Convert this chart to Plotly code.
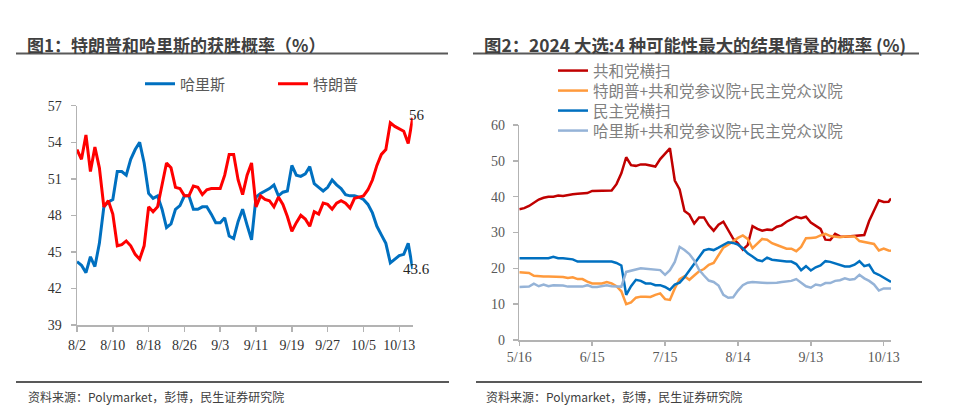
import plotly.graph_objects as go
from datetime import date, timedelta

W, H = 960, 407
CJK = "Noto Sans CJK SC"
SERIF = "Liberation Serif"

# ---------------- Chart 1 data (daily, from 8/2) ----------------
c1_start = date(2024, 8, 2)
harris = [44.2, 43.9, 43.3, 44.6, 43.8, 45.7, 48.7, 49.1, 49.3, 51.6,
          51.6, 51.3, 52.6, 53.4, 54.0, 52.3, 49.8, 49.4, 49.6, 48.5,
          47.0, 47.3, 48.5, 48.8, 49.6, 49.6, 48.5, 48.5, 48.7, 48.7,
          48.1, 47.4, 47.4, 47.8, 46.3, 46.1, 47.5, 48.5, 47.2, 46.0,
          49.5, 49.8, 50.0, 50.2, 50.5, 49.6, 49.9, 50.0, 52.1, 51.3,
          51.2, 51.4, 52.0, 50.6, 50.3, 50.0, 50.3, 50.9, 50.5, 50.2,
          49.7, 49.6, 49.6, 49.5, 49.3, 48.9, 48.2, 47.1, 46.4, 45.7,
          44.1, 44.4, 44.7, 44.8, 45.7, 43.6]
trump = [53.4, 52.6, 54.6, 51.6, 53.6, 51.9, 48.7, 49.2, 48.1, 45.5,
         45.6, 45.9, 45.5, 44.8, 44.4, 45.5, 48.7, 48.3, 48.7, 50.5,
         52.3, 51.9, 50.3, 50.2, 49.6, 49.6, 50.4, 50.3, 49.7, 50.1,
         50.2, 50.2, 50.2, 51.3, 53.0, 53.0, 50.9, 49.7, 51.3, 52.3,
         48.7, 49.6, 49.3, 49.2, 48.7, 49.5, 48.9, 47.9, 46.7, 47.4,
         48.0, 47.7, 47.1, 48.3, 48.1, 49.0, 48.9, 48.5, 49.0, 49.2,
         49.0, 48.6, 49.4, 49.5, 49.6, 50.1, 50.9, 52.1, 53.0, 53.4,
         55.6, 55.3, 55.1, 54.9, 53.9, 56.0]
c1_dates = [c1_start + timedelta(days=i) for i in range(len(trump))]
c1_names = ["哈里斯", "特朗普"]
c1_tick_dates = ["2024-08-02", "2024-08-10", "2024-08-18", "2024-08-26", "2024-09-03",
                 "2024-09-11", "2024-09-19", "2024-09-27", "2024-10-05", "2024-10-13"]
c1_tick_labels = ["8/2", "8/10", "8/18", "8/26", "9/3", "9/11", "9/19", "9/27", "10/5", "10/13"]
c1_yticks = [39, 42, 45, 48, 51, 54, 57]

# ---------------- Chart 2 data (every 2 days from 5/16, last 10/16) ----------------
c2_start = date(2024, 5, 16)
c2_offsets = list(range(0, 153, 2)) + [153]
rep_sweep = [36.5, 36.8, 37.4, 38.2, 39.2, 39.7, 40.0, 40.0, 40.3, 40.2,
             40.5, 40.7, 40.8, 40.9, 41.0, 41.6, 41.6, 41.6, 41.6, 41.7,
             43.5, 46.5, 51.0, 48.8, 48.6, 49.0, 49.0, 48.8, 48.4, 50.5,
             52.0, 53.5, 44.5, 42.0, 36.0, 35.0, 32.5, 34.2, 34.2, 32.0,
             30.5, 32.2, 33.0, 30.5, 28.3, 27.0, 25.2, 26.5, 31.8, 31.0,
             30.5, 30.8, 30.7, 31.6, 32.0, 33.0, 33.8, 34.4, 34.0, 34.4,
             32.8, 32.0, 31.0, 28.0, 27.9, 29.6, 28.9, 28.8, 28.9, 29.1,
             29.0, 29.3, 33.2, 36.0, 39.0, 38.5, 38.6,
             39.5]
trump_split = [18.9, 18.9, 18.7, 17.9, 17.7, 17.7, 17.7, 17.7, 17.7, 17.6,
               17.3, 17.5, 17.0, 17.0, 16.3, 15.8, 15.8, 15.8, 16.2, 15.8,
               15.0, 13.6, 10.0, 10.5, 11.8, 12.1, 12.1, 12.0, 12.6, 13.0,
               11.4, 11.2, 14.4, 17.0, 17.8, 16.8, 18.0, 19.2, 19.8, 21.0,
               21.5, 23.8, 25.8, 26.6, 27.6, 28.5, 29.2, 28.2, 25.6, 26.8,
               28.2, 28.0, 27.0, 26.5, 25.9, 25.5, 25.5, 24.8, 26.0, 28.4,
               28.5, 28.6, 29.2, 29.6, 29.0, 28.8, 28.7, 28.9, 29.0, 28.9,
               27.6, 27.4, 27.2, 26.8, 25.0, 25.5, 25.0,
               24.9]
dem_sweep = [22.8, 22.8, 22.8, 22.8, 22.8, 22.8, 22.8, 23.2, 22.8, 22.8,
             22.7, 22.5, 21.9, 21.9, 21.9, 21.9, 21.9, 21.9, 21.9, 21.9,
             21.5, 20.8, 12.6, 15.0, 16.8, 16.5, 15.8, 15.8, 15.3, 15.3,
             14.8, 14.0, 15.5, 16.0, 17.5, 19.3, 21.2, 23.0, 25.0, 25.4,
             25.1, 25.8, 26.6, 27.3, 27.1, 26.6, 25.6, 24.2, 23.3, 22.3,
             22.0, 23.0, 22.4, 22.2, 22.2, 21.9, 21.9, 21.2, 19.5, 20.6,
             19.4, 20.3, 20.8, 22.0, 21.8, 21.4, 20.8, 20.5, 20.5, 21.0,
             22.0, 20.6, 21.0, 18.8, 18.2, 17.4, 16.5,
             16.2]
harris_split = [14.8, 14.8, 14.9, 15.7, 15.0, 15.5, 15.0, 15.3, 15.3, 15.2,
                14.9, 14.9, 14.9, 14.9, 15.3, 14.8, 14.8, 15.0, 15.3, 15.0,
                14.9, 14.9, 19.0, 19.3, 19.8, 20.0, 19.9, 19.8, 19.5, 19.5,
                18.2, 19.5, 21.8, 26.0, 25.1, 24.0, 22.2, 19.6, 18.0, 16.6,
                16.2, 15.2, 12.6, 11.8, 11.9, 13.8, 15.3, 16.0, 16.2, 16.2,
                16.0, 15.9, 15.9, 16.0, 16.2, 16.4, 16.5, 17.0, 16.0, 15.0,
                14.6, 15.5, 15.2, 15.9, 15.9, 16.5, 16.7, 17.2, 16.8, 17.0,
                18.2, 17.2, 16.5, 15.5, 13.8, 14.4, 14.4,
                14.4]
c2_dates = [c2_start + timedelta(days=o) for o in c2_offsets]
c2_names = ["共和党横扫", "特朗普+共和党参议院+民主党众议院", "民主党横扫", "哈里斯+共和党参议院+民主党众议院"]
c2_tick_dates = ["2024-05-16", "2024-06-15", "2024-07-15", "2024-08-14", "2024-09-13", "2024-10-13"]
c2_tick_labels = ["5/16", "6/15", "7/15", "8/14", "9/13", "10/13"]
c2_yticks = [0, 10, 20, 30, 40, 50, 60]

# ---------------- helpers ----------------
def px_x(x):
    return x / W

def px_y(y):
    return 1 - y / H

fig = go.Figure()

c1_colors = ["#0070c0", "#ff0000"]
for name, vals, col in zip(c1_names, [harris, trump], c1_colors):
    fig.add_trace(go.Scatter(x=c1_dates, y=vals, name=name, mode="lines",
                             line=dict(color=col, width=3), xaxis="x", yaxis="y",
                             legend="legend", hoverinfo="skip"))

# one single-entry legend per series of chart 2 (rows 20 px apart)
c2_colors = ["#c00000", "#ff9a3c", "#0070c0", "#95b3d7"]
c2_legends = ["legend2", "legend3", "legend4", "legend5"]
c2_rows = [71, 91, 111, 131]
for name, vals, col, lg in zip(c2_names, [rep_sweep, trump_split, dem_sweep, harris_split],
                               c2_colors, c2_legends):
    fig.add_trace(go.Scatter(x=c2_dates, y=vals, name=name, mode="lines",
                             line=dict(color=col, width=2.5), xaxis="x2", yaxis="y2",
                             legend=lg, hoverinfo="skip"))

axis_common = dict(showgrid=False, zeroline=False, showline=True, linecolor="#b3b3b3",
                   linewidth=1.5, ticks="outside", tickcolor="#b3b3b3", tickwidth=1.5,
                   automargin=False)

layout_legends = {}
for lg, row in zip(c2_legends, c2_rows):
    layout_legends[lg] = dict(orientation="v", x=px_x(553), xanchor="left", y=px_y(row),
                              yanchor="middle", font=dict(family=CJK, size=15.5, color="#808080"),
                              bgcolor="rgba(0,0,0,0)", itemwidth=30)

fig.update_layout(
    width=W, height=H, margin=dict(l=0, r=0, t=0, b=0, autoexpand=False),
    paper_bgcolor="white", plot_bgcolor="white",
    xaxis=dict(domain=[px_x(77), px_x(412.7)], type="date",
               range=["2024-08-02", "2024-10-16"],
               tickvals=c1_tick_dates, ticktext=c1_tick_labels,
               tickfont=dict(family=SERIF, size=14, color="#333333"),
               ticklen=5, ticklabelstandoff=2, anchor="y", **axis_common),
    yaxis=dict(domain=[px_y(325), px_y(105.7)], range=[39, 57],
               tickvals=c1_yticks, tickfont=dict(family=SERIF, size=14, color="#333333"),
               ticklen=5, ticklabelstandoff=6, anchor="x", **axis_common),
    xaxis2=dict(domain=[px_x(519.3), px_x(891)], type="date",
                range=["2024-05-16", "2024-10-16"],
                tickvals=c2_tick_dates, ticktext=c2_tick_labels,
                tickfont=dict(family=SERIF, size=14, color="#595959"),
                ticklen=4, ticklabelstandoff=0, anchor="y2", **axis_common),
    yaxis2=dict(domain=[px_y(340), px_y(125)], range=[0, 60],
                tickvals=c2_yticks, tickfont=dict(family=SERIF, size=14, color="#595959"),
                ticklen=5, ticklabelstandoff=5, anchor="x2", **axis_common),
    legend=dict(orientation="h", x=px_x(140), xanchor="left", y=px_y(84), yanchor="middle",
                font=dict(family=CJK, size=15, color="#595959"), bgcolor="rgba(0,0,0,0)",
                entrywidth=88, entrywidthmode="pixels", itemwidth=30),
    showlegend=True,
    **layout_legends,
)

# end-value labels on chart 1
fig.add_annotation(x=c1_dates[-1], y=trump[-1], xref="x", yref="y", text=str(int(trump[-1])),
                   showarrow=False, xshift=4, yshift=3,
                   font=dict(family=SERIF, size=15, color="#262626"))
fig.add_annotation(x=c1_dates[-1], y=harris[-1], xref="x", yref="y", text=f"{harris[-1]}",
                   showarrow=False, xshift=4, yshift=0,
                   font=dict(family=SERIF, size=15, color="#262626"))

# titles
fig.add_annotation(x=px_x(25), y=px_y(44), xref="paper", yref="paper", xanchor="left", yanchor="middle",
                   text="<b>图1：特朗普和哈里斯的获胜概率（%）</b>", showarrow=False,
                   font=dict(family=CJK, size=17, color="#404040"))
fig.add_annotation(x=px_x(482), y=px_y(44), xref="paper", yref="paper", xanchor="left", yanchor="middle",
                   text="<b>图2：2024 大选:4 种可能性最大的结果情景的概率 (%)</b>", showarrow=False,
                   font=dict(family=CJK, size=17.4, color="#404040"))

# sources
for sx in [26, 484]:
    fig.add_annotation(x=px_x(sx), y=px_y(396), xref="paper", yref="paper", xanchor="left", yanchor="middle",
                       text="资料来源：Polymarket，彭博，民生证券研究院", showarrow=False,
                       font=dict(family=CJK, size=12, color="#404040"))

# header / footer rules
for (x0, x1, y) in [(16, 448, 53.5), (473, 919, 53.5), (16, 449, 382), (476, 922, 382)]:
    fig.add_shape(type="line", xref="paper", yref="paper", x0=px_x(x0), x1=px_x(x1),
                  y0=px_y(y), y1=px_y(y), line=dict(color="#595959", width=2))

fig.write_html("out.html", config={"displayModeBar": False, "staticPlot": True},
               post_script="document.body.style.margin='0';document.body.style.overflow='hidden';")
